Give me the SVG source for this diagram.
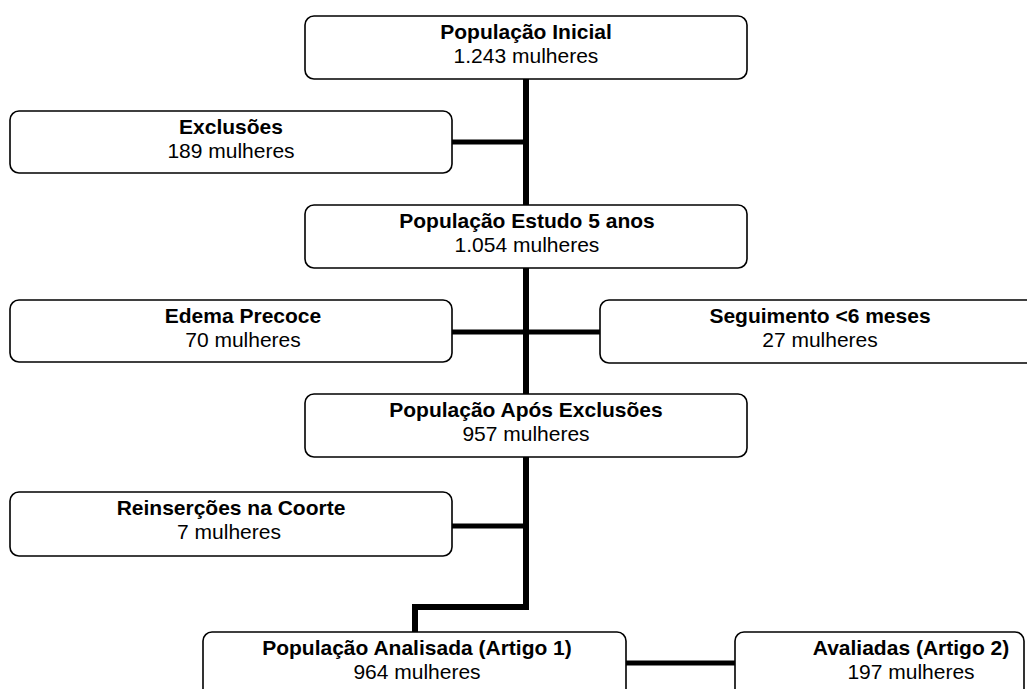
<svg xmlns="http://www.w3.org/2000/svg" width="1027" height="689" viewBox="0 0 1027 689">
<style>
.box{fill:#fff;stroke:#000;stroke-width:1.6}
.t{font-family:"Liberation Sans",Arial,sans-serif;font-size:21px;text-anchor:middle;fill:#000}
.b{font-weight:bold}
.c{fill:none;stroke:#000;stroke-linecap:butt}
.trunk{stroke-width:6}
.side{stroke-width:5}
</style>
<rect width="1027" height="689" fill="#fff"/>
<g id="connectors">
<line class="c trunk" x1="526" y1="79" x2="526" y2="205"/>
<line class="c trunk" x1="526" y1="268" x2="526" y2="394"/>
<polyline class="c trunk" points="526,457 526,607 415,607 415,632"/>
<line class="c side" x1="452" y1="142" x2="526" y2="142"/>
<line class="c side" x1="452" y1="332" x2="600" y2="332"/>
<line class="c side" x1="452" y1="526" x2="526" y2="526"/>
<line class="c side" x1="626" y1="663" x2="735" y2="663"/>
</g>
<g id="pop-inicial">
<rect class="box" x="305" y="16" width="442" height="63" rx="9"/>
<text class="t b" x="526" y="39">População Inicial</text>
<text class="t" x="526" y="63">1.243 mulheres</text>
</g>
<g id="exclusoes">
<rect class="box" x="10" y="111" width="442" height="62" rx="9"/>
<text class="t b" x="231" y="134">Exclusões</text>
<text class="t" x="231" y="158">189 mulheres</text>
</g>
<g id="pop-estudo">
<rect class="box" x="305" y="205" width="442" height="63" rx="9"/>
<text class="t b" x="527" y="228">População Estudo 5 anos</text>
<text class="t" x="527" y="252">1.054 mulheres</text>
</g>
<g id="edema">
<rect class="box" x="10" y="300" width="442" height="62" rx="9"/>
<text class="t b" x="243" y="323">Edema Precoce</text>
<text class="t" x="243" y="347">70 mulheres</text>
</g>
<g id="seguimento">
<rect class="box" x="600" y="300" width="442" height="63" rx="9"/>
<text class="t b" x="820" y="323">Seguimento &lt;6 meses</text>
<text class="t" x="820" y="347">27 mulheres</text>
</g>
<g id="pop-apos">
<rect class="box" x="305" y="394" width="442" height="63" rx="9"/>
<text class="t b" x="526" y="417">População Após Exclusões</text>
<text class="t" x="526" y="441">957 mulheres</text>
</g>
<g id="reinsercoes">
<rect class="box" x="10" y="492" width="442" height="64" rx="9"/>
<text class="t b" x="231" y="515">Reinserções na Coorte</text>
<text class="t" x="229" y="539">7 mulheres</text>
</g>
<g id="pop-analisada">
<rect class="box" x="203" y="632" width="423" height="70" rx="9"/>
<text class="t b" x="417" y="655">População Analisada (Artigo 1)</text>
<text class="t" x="417" y="679">964 mulheres</text>
</g>
<g id="avaliadas">
<rect class="box" x="735" y="632" width="289" height="70" rx="9"/>
<text class="t b" x="911" y="655">Avaliadas (Artigo 2)</text>
<text class="t" x="911" y="679">197 mulheres</text>
</g>
</svg>
